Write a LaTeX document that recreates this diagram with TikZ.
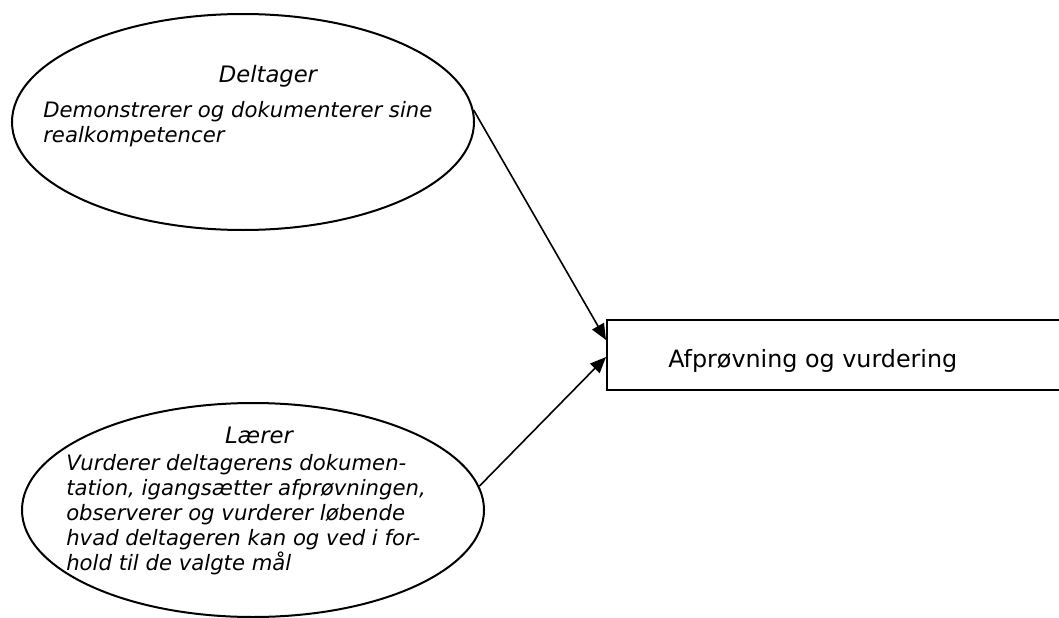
\documentclass[tikz,border=0pt]{standalone}
\usepackage{fontspec}
\setmainfont{DejaVu Sans}
\usetikzlibrary{arrows.meta,shapes.geometric}

\begin{document}
\begin{tikzpicture}[x=0.75pt,y=-0.75pt,
  rolle/.style={draw,ellipse,line width=1.5pt,inner sep=0pt,minimum width=346.5pt,minimum height=162pt},
  titel/.style={font=\fontsize{17}{19}\selectfont\itshape,anchor=base},
  tekst/.style={font=\fontsize{15.9}{18.75}\selectfont\itshape,align=left,inner sep=0pt,anchor=base west},
  pil/.style={line width=1.2pt,-{Triangle[length=12pt,width=10pt]}}]
\useasboundingbox (0,0) rectangle (1059,617);
% de to roller
\node[rolle](deltager) at (243,122) {};
\node[rolle,minimum height=160.5pt](laerer) at (253,510) {};
\node[titel](deltagertitel) at (268,83) {Deltager};
\node[tekst](deltagertekst) at (43,142) {Demonstrerer og dokumenterer sine\\realkompetencer};
\node[titel](laerertitel) at (259,443) {Lærer};
\node[tekst](laerertekst) at (66,570) {Vurderer deltagerens dokumen-\\tation, igangsætter afprøvningen,\\observerer og vurderer løbende\\hvad deltageren kan og ved i for-\\hold til de valgte mål};
% boksen
\node[draw,line width=1.5pt,minimum width=375pt,minimum height=52.5pt,anchor=west](box) at (606,355) {};
\node[font=\fontsize{17.85}{20}\selectfont,anchor=base west,inner sep=0pt](boxtekst) at (668,367) {Afprøvning og vurdering};
% pile
\draw[pil](deltager.3)--([yshift=11.25pt]box.west);
\draw[pil](laerer.6)--([yshift=-1.5pt]box.west);
\end{tikzpicture}
\end{document}
